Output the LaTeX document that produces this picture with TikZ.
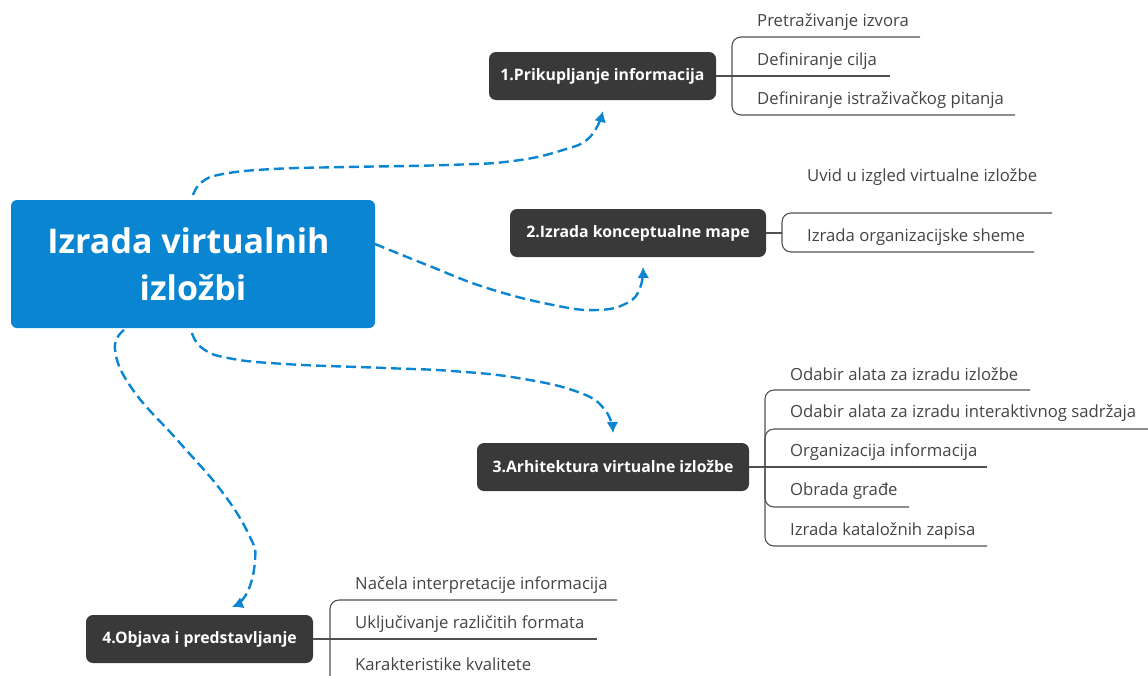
\documentclass[tikz,border=0pt]{standalone}
\usepackage{fontspec}
\setmainfont{Open Sans}
\usetikzlibrary{arrows.meta}
\definecolor{mainblue}{HTML}{0A85D1}
\definecolor{darkbox}{HTML}{393939}
\definecolor{leaftext}{HTML}{444444}
\definecolor{linecol}{HTML}{505050}
\newcommand{\lowertext}[1]{\raisebox{-1.5pt}{#1}}
\tikzset{
  mainbox/.style={fill=mainblue,rounded corners=6pt,inner sep=0pt,text=white,align=center,font=\fontsize{34}{45}\selectfont\bfseries},
  topicbox/.style={fill=darkbox,rounded corners=7pt,inner sep=0pt,text=white,font=\fontsize{15.8}{18}\selectfont\bfseries},
  leaf/.style={anchor=west,inner sep=0pt,text=leaftext,font=\fontsize{16.7}{18}\selectfont},
  rule/.style={draw=linecol,line width=1.1pt},
  bracket/.style={draw=linecol,line width=1.1pt,rounded corners=9pt},
  flow/.style={draw=mainblue,line width=2.4pt,dash pattern=on 10pt off 5pt,-{Latex[length=11pt,width=12pt]}}
}
\begin{document}
\begin{tikzpicture}[x=1pt,y=-1pt]
\useasboundingbox (0,0) rectangle (1148,675);
\node[mainbox,minimum width=364pt,minimum height=128pt] (main) at (193,264) {\raisebox{1.5pt}{Izrada virtualnih}\hspace*{9pt}\\izložbi};
\node[topicbox,minimum width=227pt,minimum height=48pt] (t1) at (602.5,76) {\lowertext{1.Prikupljanje informacija}};
\node[topicbox,minimum width=256pt,minimum height=48pt] (t2) at (638,233) {\lowertext{2.Izrada konceptualne mape}};
\node[topicbox,minimum width=272pt,minimum height=48pt] (t3) at (613,467) {\lowertext{3.Arhitektura virtualne izložbe}};
\node[topicbox,minimum width=227pt,minimum height=48pt] (t4) at (199.5,639) {\lowertext{4.Objava i predstavljanje}};
\draw[flow] plot[smooth,tension=.75] coordinates {(193,195) (202,182) (223,174) (273,169) (347,167) (447,165) (513,161) (563,150) (590,137) (603,111)};
\draw[flow] plot[smooth,tension=.75] coordinates {(375,244) (427,265) (487,288) (553,305) (597,310) (627,303) (640,288) (643,267)};
\draw[flow] plot[smooth,tension=.75] coordinates {(192,333) (202,348) (228,358) (285,364) (385,368) (452,371) (518,378) (578,392) (605,410) (613,433)};
\draw[flow] plot[smooth,tension=.75] coordinates {(124,330) (115,350) (133,390) (180,443) (223,493) (250,537) (255,560) (247,593) (232,607)};
\node[leaf] (l1a) at (757,22) {Pretraživanje izvora};
\node[leaf] (l1b) at (757,61) {Definiranje cilja};
\node[leaf] (l1c) at (757,100) {Definiranje istraživačkog pitanja};
\draw[rule] (t1.east) -- (890,76);
\draw[bracket] (920,37) -- (732,37) -- (732,115) -- (1015,115);
\node[leaf] (l2a) at (807,177) {Uvid u izgled virtualne izložbe};
\node[leaf] (l2b) at (807,237) {Izrada organizacijske sheme};
\draw[rule] (t2.east) -- (782,233);
\draw[bracket] (1052,213) -- (782,213) -- (782,252) -- (1034,252);
\node[leaf] (l3a) at (790,374) {Odabir alata za izradu izložbe};
\node[leaf] (l3b) at (790,413) {Odabir alata za izradu interaktivnog sadržaja};
\node[leaf] (l3c) at (790,452) {Organizacija informacija};
\node[leaf] (l3d) at (790,491) {Obrada građe};
\node[leaf] (l3e) at (790,531) {Izrada kataložnih zapisa};
\draw[rule] (t3.east) -- (987,467);
\draw[bracket] (1030,390) -- (765,390) -- (765,546) -- (987,546);
\draw[bracket] (1148,429) -- (765,429) -- (765,467);
\draw[bracket] (909,507) -- (765,507) -- (765,467);
\node[leaf] (l4a) at (355,585) {Načela interpretacije informacija};
\node[leaf] (l4b) at (355,624) {Uključivanje različitih formata};
\node[leaf] (l4c) at (355,664) {Karakteristike kvalitete};
\draw[rule] (t4.east) -- (597,639);
\draw[bracket] (617,600) -- (330,600) -- (330,690);
\end{tikzpicture}
\end{document}
